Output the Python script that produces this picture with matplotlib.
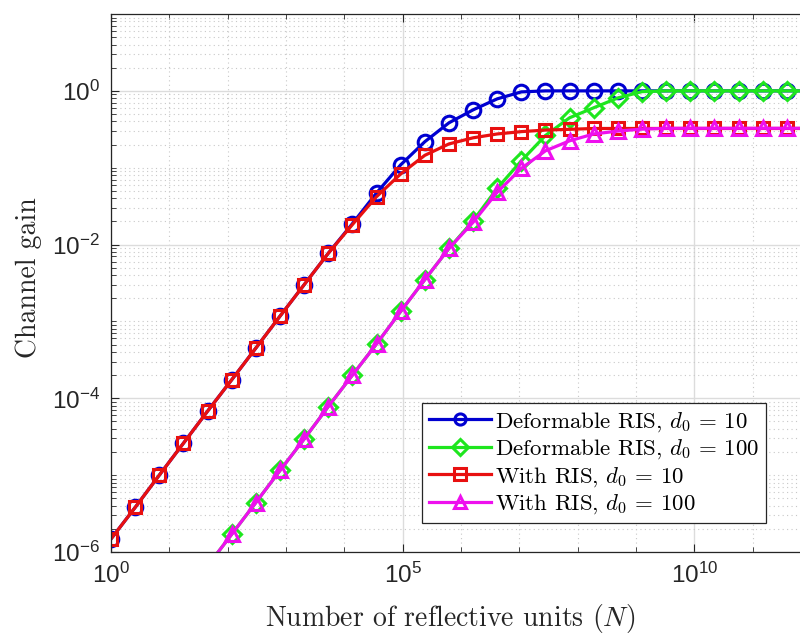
import numpy as np
import matplotlib
matplotlib.use("Agg")
import matplotlib.pyplot as plt
from matplotlib.ticker import FixedLocator, LogFormatterMathtext, NullFormatter

plt.rcParams.update({'font.family': 'Liberation Sans',
                     'mathtext.fontset': 'cm',
                     'axes.unicode_minus': False,
                     'axes.formatter.use_mathtext': True})

# number of reflective units (30 log-spaced points, 1 .. 1e12)
n_units = [1, 2.593, 6.723, 17.43, 45.20, 117.2, 303.9, 788.1, 2043, 5299,
           1.3738e4, 3.562e4, 9.237e4, 2.395e5, 6.210e5, 1.610e6, 4.175e6,
           1.083e7, 2.807e7, 7.279e7, 1.887e8, 4.894e8, 1.269e9, 3.290e9,
           8.532e9, 2.212e10, 5.736e10, 1.487e11, 3.857e11, 1e12]

gain_def_10 = [1.48e-6, 3.8e-6, 1.0e-5, 2.6e-5, 6.8e-5, 1.74e-4, 4.5e-4, 1.17e-3,
               3.0e-3, 7.7e-3, 1.87e-2, 4.7e-2, 0.109, 0.218, 0.384, 0.566,
               0.787, 0.97] + [1.0] * 12
gain_def_100 = [1.45e-8, 3.7e-8, 9.8e-8, 2.5e-7, 6.6e-7, 1.7e-6, 4.4e-6, 1.15e-5,
                2.95e-5, 7.8e-5, 2.0e-4, 5.1e-4, 1.35e-3, 3.5e-3, 8.9e-3, 2.04e-2,
                5.4e-2, 0.123, 0.263, 0.447, 0.603, 0.81, 0.977] + [1.0] * 7
gain_ris_10 = [1.48e-6, 3.8e-6, 1.0e-5, 2.6e-5, 6.8e-5, 1.74e-4, 4.5e-4, 1.17e-3,
               3.0e-3, 7.7e-3, 1.82e-2, 4.2e-2, 8.3e-2, 0.145, 0.204, 0.245,
               0.275, 0.295, 0.309, 0.316] + [0.324] * 10
gain_ris_100 = [1.45e-8, 3.7e-8, 9.8e-8, 2.5e-7, 6.6e-7, 1.7e-6, 4.4e-6, 1.15e-5,
                2.95e-5, 7.8e-5, 2.0e-4, 5.1e-4, 1.35e-3, 3.5e-3, 8.9e-3, 1.95e-2,
                4.8e-2, 9.8e-2, 0.166, 0.224, 0.275, 0.30, 0.318] + [0.326] * 7

labels = [r'Deformable RIS, $d_0$ = 10', r'Deformable RIS, $d_0$ = 100',
          r'With RIS, $d_0$ = 10', r'With RIS, $d_0$ = 100']

fig = plt.figure(figsize=(8, 6.34), dpi=100)
# the right edge of the axes runs past the picture (cropped original)
ax = fig.add_axes([0.13875, 0.1293, 0.875, 0.8486])

ax.plot(n_units, gain_def_10, '-o', color='#0000d0', lw=2.3, ms=10.5, mew=2.2,
        mfc='none', label=labels[0])
ax.plot(n_units, gain_def_100, '-D', color='#1ee61e', lw=2.3, ms=9, mew=2.2,
        mfc='none', label=labels[1])
ax.plot(n_units, gain_ris_10, '-s', color='#e81010', lw=2.3, ms=8, mew=2.2,
        mfc='none', label=labels[2])
ax.plot(n_units, gain_ris_100, '-^', color='#ee10ee', lw=2.3, ms=10, mew=2.2,
        mfc='none', label=labels[3])

ax.set_xscale('log')
ax.set_yscale('log')
ax.set_xlim(1, 1e12)
ax.set_ylim(1e-6, 1e1)

ax.xaxis.set_major_locator(FixedLocator([1e0, 1e5, 1e10]))
ax.xaxis.set_minor_locator(FixedLocator([10.0 ** k for k in range(13)]))
ax.yaxis.set_major_locator(FixedLocator([1e-6, 1e-4, 1e-2, 1e0]))
ymin = [m * 10.0 ** k for k in range(-6, 1) for m in range(1, 10)]
ax.yaxis.set_minor_locator(FixedLocator(ymin))
ax.xaxis.set_major_formatter(LogFormatterMathtext())
ax.yaxis.set_major_formatter(LogFormatterMathtext())
ax.xaxis.set_minor_formatter(NullFormatter())
ax.yaxis.set_minor_formatter(NullFormatter())

ax.tick_params(which='both', direction='in', top=True, right=True,
               colors='#262626', labelsize=17.5)
ax.tick_params(which='major', length=6, width=0.8, pad=8)
ax.tick_params(which='minor', length=3.5, width=0.6)

ax.grid(which='major', color='#dcdcdc', lw=1.0, ls='-')
ax.grid(which='minor', color='#c8c8c8', lw=0.8, ls=(0, (1, 3)))
ax.set_axisbelow(True)
for s in ax.spines.values():
    s.set_color('#262626')
    s.set_linewidth(0.9)

ax.set_xlabel(r'Number of reflective units ($N$)', fontfamily='cmr10',
              fontsize=20, color='#262626')
ax.set_ylabel('Channel gain', fontfamily='cmr10', fontsize=20,
              color='#262626')
ax.xaxis.set_label_coords((450 - 111) / 700, -(618 - 552) / 538, transform=ax.transAxes)
ax.xaxis.label.set_va('center')
ax.yaxis.set_label_coords(-(111 - 29) / 700, (552 - 278) / 538, transform=ax.transAxes)
ax.yaxis.label.set_va('center')

leg = ax.legend(loc='lower left', bbox_to_anchor=(422 / 800, 1 - 523 / 634),
                bbox_transform=fig.transFigure, borderaxespad=0,
                prop={'family': 'cmr10', 'size': 16.5}, numpoints=1,
                handlelength=2.7, handletextpad=0.2, labelspacing=0.16,
                borderpad=0.3, fancybox=False, framealpha=1,
                edgecolor='#262626')
leg.get_frame().set_linewidth(0.9)
for h in leg.get_lines():
    h.set_markersize(8)

fig.savefig('out.png', dpi=100)
